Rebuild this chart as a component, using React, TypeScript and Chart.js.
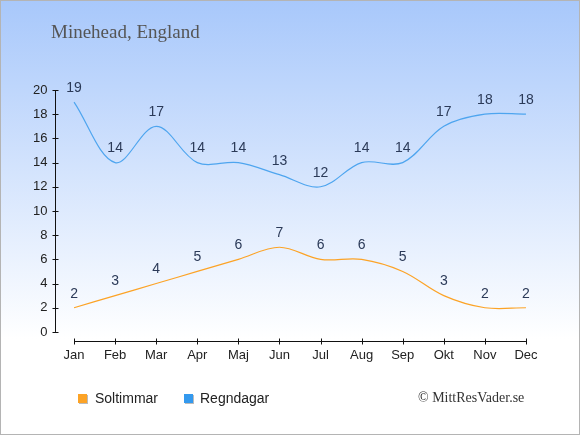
import { useEffect, useRef } from "react";
import { Chart, registerables, type Plugin } from "chart.js";

Chart.register(...registerables);

const MONTHS = ["Jan", "Feb", "Mar", "Apr", "Maj", "Jun", "Jul", "Aug", "Sep", "Okt", "Nov", "Dec"];
const SUN_HOURS = [2, 3, 4, 5, 6, 7, 6, 6, 5, 3, 2, 2];
const RAIN_DAYS = [19, 14, 17, 14, 14, 13, 12, 14, 14, 17, 18, 18];
const Y_TICKS = [0, 2, 4, 6, 8, 10, 12, 14, 16, 18, 20];

const SUN_COLOR = "#fca326";
const RAIN_COLOR = "#4ea5ef";
const FONT = "'Liberation Sans', Arial, sans-serif";
const SERIF = "'Liberation Serif', 'Times New Roman', serif";

// axis lines, ticks and point labels drawn by hand, like the original
const axesAndLabels: Plugin<"line"> = {
  id: "axesAndLabels",
  afterDatasetsDraw(chart) {
    const { ctx, chartArea, scales } = chart;
    const x = scales.x;
    const y = scales.y;
    ctx.save();
    ctx.strokeStyle = "#111";
    ctx.lineWidth = 1;

    const ax = Math.round(chartArea.left + 1.5) + 0.5;
    ctx.beginPath();
    ctx.moveTo(ax, y.getPixelForValue(20));
    ctx.lineTo(ax, y.getPixelForValue(0));
    for (const v of Y_TICKS) {
      const py = Math.round(y.getPixelForValue(v)) + 0.5;
      ctx.moveTo(ax - 3, py);
      ctx.lineTo(ax + 3, py);
    }
    const ay = Math.round(chartArea.bottom) + 0.5;
    ctx.moveTo(x.getPixelForValue(0), ay);
    ctx.lineTo(x.getPixelForValue(MONTHS.length - 1), ay);
    MONTHS.forEach((_, i) => {
      const px = Math.round(x.getPixelForValue(i)) + 0.5;
      ctx.moveTo(px, ay - 3);
      ctx.lineTo(px, ay + 3);
    });
    ctx.stroke();

    ctx.fillStyle = "#2b3a58";
    ctx.font = `14px ${FONT}`;
    ctx.textAlign = "center";
    ctx.textBaseline = "middle";
    chart.data.datasets.forEach((ds, di) => {
      const meta = chart.getDatasetMeta(di);
      meta.data.forEach((pt, i) => {
        ctx.fillText(String(ds.data[i]), pt.x, pt.y - 14);
      });
    });
    ctx.restore();
  },
};

function ClimateChart() {
  const canvasRef = useRef<HTMLCanvasElement>(null);

  useEffect(() => {
    if (!canvasRef.current) return;
    const chart = new Chart(canvasRef.current, {
      type: "line",
      data: {
        labels: MONTHS,
        datasets: [
          {
            label: "Soltimmar",
            data: SUN_HOURS,
            borderColor: SUN_COLOR,
            borderWidth: 1.2,
            pointRadius: 0,
            tension: 0.35,
          },
          {
            label: "Regndagar",
            data: RAIN_DAYS,
            borderColor: RAIN_COLOR,
            borderWidth: 1.2,
            pointRadius: 0,
            tension: 0.35,
          },
        ],
      },
      options: {
        responsive: false,
        animation: false,
        layout: { padding: { top: 89, right: 32.5, left: 0, bottom: 0 } },
        scales: {
          x: {
            offset: true,
            grid: { display: false, drawTicks: false },
            border: { display: false },
            ticks: { color: "#222", font: { family: FONT, size: 13 }, padding: 7, maxRotation: 0 },
            afterFit: (s) => { s.height = 93; },
          },
          y: {
            min: -0.75,
            max: 20,
            grid: { display: false, drawTicks: false },
            border: { display: false },
            ticks: { color: "#222", font: { family: FONT, size: 13 }, padding: 6 },
            afterBuildTicks: (axis) => { axis.ticks = Y_TICKS.map((v) => ({ value: v })); },
            afterFit: (s) => { s.width = 52.5; },
          },
        },
        plugins: {
          legend: { display: false },
          tooltip: { enabled: false },
        },
      },
      plugins: [axesAndLabels],
    });
    return () => chart.destroy();
  }, []);

  const square = (color: string) => ({
    position: "absolute" as const,
    width: 9,
    height: 9,
    background: color,
    boxShadow: "1px 1px 0 #bbb",
  });
  const legendText = {
    position: "absolute" as const,
    font: `14px ${FONT}`,
    color: "#222",
    lineHeight: "16px",
  };

  return (
    <div
      style={{
        position: "relative",
        width: 580,
        height: 435,
        boxSizing: "border-box",
        border: "1px solid #b4b4b4",
        background: "linear-gradient(to bottom, #a8c8fb 0%, #ffffff 78%, #ffffff 100%)",
        overflow: "hidden",
      }}
    >
      <canvas ref={canvasRef} width={578} height={433} style={{ position: "absolute", left: 0, top: 0 }} />
      <div style={{ position: "absolute", left: 50, top: 20, font: `19px ${SERIF}`, color: "#555" }}>
        Minehead, England
      </div>
      <div style={{ ...square(SUN_COLOR), left: 77, top: 393 }} />
      <div style={{ ...legendText, left: 94, top: 389 }}>Soltimmar</div>
      <div style={{ ...square("#3399ee"), left: 183, top: 393 }} />
      <div style={{ ...legendText, left: 199, top: 389 }}>Regndagar</div>
      <div style={{ position: "absolute", left: 417, top: 389, font: `14px ${SERIF}`, color: "#333" }}>
        © MittResVader.se
      </div>
    </div>
  );
}

export default function App() {
  useEffect(() => {
    document.body.style.margin = "0";
  }, []);
  return <ClimateChart />;
}
